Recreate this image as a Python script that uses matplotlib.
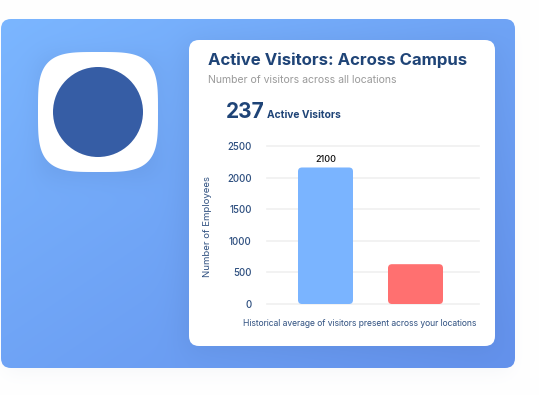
import numpy as np
import matplotlib
matplotlib.use("AGG")
import matplotlib.pyplot as plt
from matplotlib.patches import FancyBboxPatch, Circle, Polygon

categories = ["Historical average", "Active visitors"]
values = [2160, 630]
bar_colors = ["#7ab4ff", "#ff7070"]
bar_labels = ["2100", ""]
y_ticks = [0, 500, 1000, 1500, 2000, 2500]

NAVY = "#1f4477"
W, H = 539, 395
plt.rcParams["font.family"] = ["Inter", "DejaVu Sans"]


def blur(img, sigma):
    # separable gaussian, good enough for the soft shadows
    r = int(3 * sigma)
    k = np.exp(-0.5 * (np.arange(-r, r + 1) / sigma) ** 2)
    k /= k.sum()
    img = np.apply_along_axis(lambda v: np.convolve(v, k, mode="same"), 0, img)
    return np.apply_along_axis(lambda v: np.convolve(v, k, mode="same"), 1, img)


def box_mask(x0, y0, x1, y1):
    m = np.zeros((H, W))
    m[y0:y1, x0:x1] = 1.0
    return m


def superellipse(cx, cy, r, n=3.7):
    t = np.linspace(0, 2 * np.pi, 200)
    c, s = np.cos(t), np.sin(t)
    return np.column_stack([cx + r * np.sign(c) * np.abs(c) ** (2 / n),
                            cy + r * np.sign(s) * np.abs(s) ** (2 / n)])


fig = plt.figure(figsize=(W / 100, H / 100), dpi=100)
bg = fig.add_axes([0, 0, 1, 1])
bg.set_xlim(0, W)
bg.set_ylim(H, 0)
bg.axis("off")

# faint shadow under the big panel
outer = blur(box_mask(6, 30, 510, 372), 10) * 0.05
bg.imshow(np.dstack([1 - outer * 0.8, 1 - outer * 0.7, 1 - outer * 0.5]),
          extent=(0, W, H, 0), interpolation="bilinear", zorder=0, aspect="auto")

# diagonal gradient panel, darkened round the card and the icon
yy, xx = np.mgrid[0:H, 0:W]
t = np.clip(((xx / 515) * 0.5 + ((yy - 19) / 349) * 0.5), 0, 1)[..., None]
c0 = np.array([0x7b, 0xb6, 0xff]) / 255
c1 = np.array([0x63, 0x91, 0xec]) / 255
grad = c0 * (1 - t) + c1 * t
shade = blur(box_mask(185, 44, 495, 350), 14) * 0.16 + blur(box_mask(40, 58, 156, 176), 12) * 0.14
grad = grad * (1 - shade[..., None]) + np.array([0.22, 0.33, 0.55]) * shade[..., None]
panel = bg.imshow(grad, extent=(0, W, H, 0), interpolation="bilinear", zorder=1, aspect="auto")
panel_box = FancyBboxPatch((1, 19), 514, 349, boxstyle="round,pad=0,rounding_size=10",
                           fc="none", ec="none", transform=bg.transData)
bg.add_patch(panel_box)
panel.set_clip_path(panel_box)

# icon
bg.add_patch(Polygon(superellipse(98, 112, 60), fc="white", ec="none", zorder=2))
bg.add_patch(Circle((98, 112), 45, fc="#365da5", ec="none", zorder=3))

# white card
bg.add_patch(FancyBboxPatch((189, 40), 306, 306, boxstyle="round,pad=0,rounding_size=10",
                            fc="white", ec="none", zorder=2))

bg.text(208, 60, "Active Visitors: Across Campus", fontsize=12.05, fontweight="bold",
        color=NAVY, va="center", zorder=4)
bg.text(208, 80, "Number of visitors across all locations", fontsize=7.55,
        color="#9a9a9a", va="center", zorder=4)
bg.text(226, 112, "237", fontsize=15, fontweight="bold", color=NAVY, va="center", zorder=4)
bg.text(267, 115, "Active Visitors", fontsize=7.4, fontweight="bold", color=NAVY,
        va="center", zorder=4)
bg.text(359.5, 324, "Historical average of visitors present across your locations", fontsize=6.15,
        color="#2f5080", ha="center", va="center", zorder=4)

# bar chart on top of the card, placed in pixels
px0, px1, py_top, py_bot = 267, 479, 146, 304
ax = fig.add_axes([px0 / W, 1 - py_bot / H, (px1 - px0) / W, (py_bot - py_top) / H])
ax.patch.set_alpha(0)
x_per_px = 1 / 90
y_per_px = 2500 / (py_bot - py_top)
ax.set_xlim(-58.5 * x_per_px, 153.5 * x_per_px)
ax.set_ylim(0, 2500)
bars = ax.bar(range(len(values)), values, width=55 * x_per_px, color=bar_colors, zorder=3)
for bar, lab in zip(bars, bar_labels):
    # round the corners by clipping the real bar
    clip = FancyBboxPatch((bar.get_x(), 0), bar.get_width(), bar.get_height(),
                          boxstyle=f"round,pad=0,rounding_size={4 * x_per_px}",
                          mutation_aspect=y_per_px / x_per_px,
                          fc="none", ec="none", transform=ax.transData)
    ax.add_patch(clip)
    bar.set_clip_path(clip)
    if lab:
        ax.text(bar.get_x() + bar.get_width() / 2, bar.get_height() + 3.5 * y_per_px, lab,
                fontsize=6.5, color="#111111", ha="center", va="bottom", fontweight="medium")

ax.set_yticks(y_ticks)
ax.set_xticks([])
ax.grid(axis="y", color="#f0f0f0", linewidth=1.2, zorder=0)
for line in ax.get_ygridlines():
    line.set_clip_on(False)
ax.set_axisbelow(True)
for s in ax.spines.values():
    s.set_visible(False)
ax.tick_params(axis="y", length=0, pad=11, labelsize=7, labelcolor="#2f5080")
for lab in ax.get_yticklabels():
    lab.set_fontweight("medium")
bg.text(207, 226.5, "Number of Employees", fontsize=6.9, rotation=90, color="#2f5080",
        ha="center", va="center", zorder=4)

fig.savefig("out.png", dpi=100)
